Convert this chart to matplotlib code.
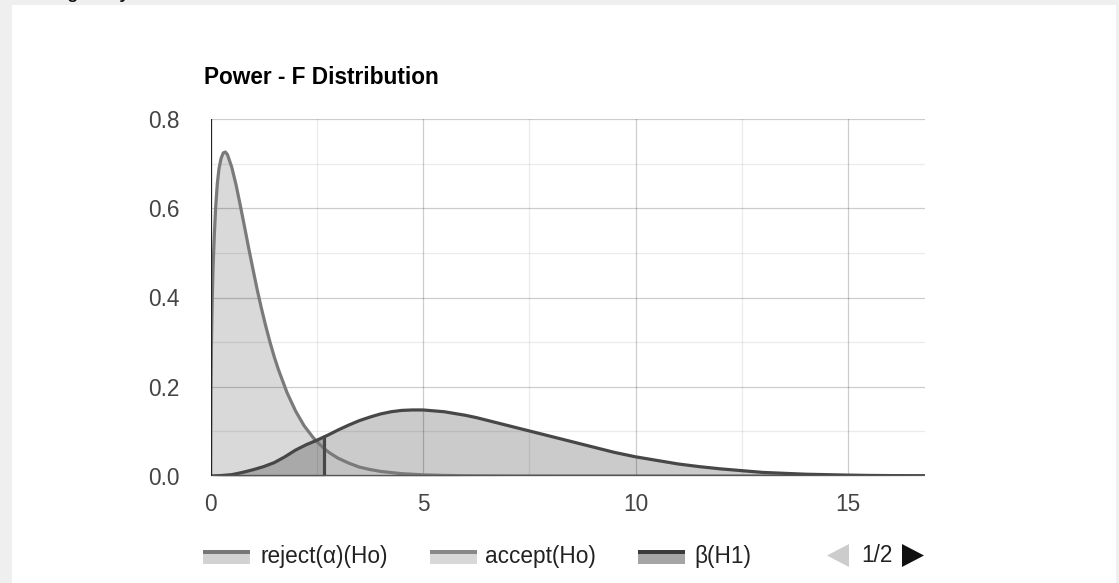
import matplotlib
matplotlib.use("Agg")
import matplotlib.pyplot as plt
from matplotlib.patches import Rectangle, Polygon
import numpy as np

plt.rcParams['font.family'] = ['Liberation Sans', 'DejaVu Sans']

# ---------------- data ----------------
ho_x = [0, 0.01, 0.02, 0.04, 0.06, 0.09, 0.12, 0.16, 0.2, 0.25, 0.3, 0.35, 0.4,
        0.5, 0.6, 0.7, 0.8, 0.9, 1.0, 1.1, 1.2, 1.3, 1.4, 1.5, 1.6, 1.8, 2.0,
        2.2, 2.4, 2.5, 2.68, 2.8, 3.0, 3.25, 3.5, 3.75, 4.0, 4.5, 5.0, 5.5,
        6.0, 7.0, 8.0, 16.8]
ho_y = [0, 0.20, 0.285, 0.39, 0.466, 0.54, 0.600, 0.655, 0.689, 0.712, 0.724,
        0.726, 0.720, 0.692, 0.653, 0.607, 0.559, 0.510, 0.463, 0.417, 0.375,
        0.336, 0.300, 0.267, 0.238, 0.187, 0.146, 0.113, 0.088, 0.077, 0.061,
        0.052, 0.040, 0.029, 0.020, 0.0146, 0.0103, 0.0052, 0.0026, 0.0013,
        0.0006, 0.00015, 0.00004, 0]

h1_x = [0, 0.25, 0.5, 0.75, 1.0, 1.25, 1.5, 1.75, 2.0, 2.25, 2.5, 2.68, 2.75,
        3.0, 3.25, 3.5, 3.75, 4.0, 4.25, 4.5, 4.75, 5.0, 5.25, 5.5, 5.75, 6.0,
        6.25, 6.5, 6.75, 7.0, 7.25, 7.5, 7.75, 8.0, 8.25, 8.5, 8.75, 9.0, 9.25,
        9.5, 9.75, 10.0, 10.5, 11.0, 11.5, 12.0, 12.5, 13.0, 13.5, 14.0, 14.5,
        15.0, 15.5, 16.0, 16.8]
h1_y = [0, 0.001, 0.003, 0.008, 0.014, 0.021, 0.030, 0.043, 0.058, 0.070,
        0.080, 0.088, 0.091, 0.103, 0.114, 0.124, 0.132, 0.139, 0.144, 0.147,
        0.148, 0.148, 0.146, 0.144, 0.140, 0.136, 0.131, 0.125, 0.119, 0.113,
        0.107, 0.101, 0.095, 0.089, 0.083, 0.077, 0.071, 0.065, 0.059, 0.053,
        0.048, 0.043, 0.035, 0.027, 0.021, 0.016, 0.012, 0.008, 0.006, 0.004,
        0.003, 0.002, 0.0013, 0.0009, 0.0005]

critical_value = 2.68
x_max = 16.8

chart_title = "Power - F Distribution"
page_heading = "Testing Analysis"
legend_labels = ["reject(\u03b1)(Ho)", "accept(Ho)", "\u03b2(H1)"]
pager_text = "1/2"
x_ticks = [0, 5, 10, 15]
y_ticks = [0.0, 0.2, 0.4, 0.6, 0.8]
x_minor = [2.5, 7.5, 12.5]
y_minor = [0.1, 0.3, 0.5, 0.7]

# ---------------- figure ----------------
W, H, DPI = 1119, 583, 100
fig = plt.figure(figsize=(W / DPI, H / DPI), dpi=DPI, facecolor='#efefef')

# overlay in pixel coordinates (card, titles, legend)
ov = fig.add_axes([0, 0, 1, 1], zorder=0)
ov.set_xlim(0, W)
ov.set_ylim(H, 0)
ov.axis('off')
ov.add_patch(Rectangle((12, 5), 1104, 600, facecolor='white', edgecolor='none'))
ov.text(17.6, -0.5, page_heading, fontsize=12.3, fontweight='bold', color='#111111',
        va='baseline', ha='left', clip_on=False)
ov.text(204, 84, chart_title, fontsize=16.3, fontweight='bold', color='#000000',
        va='baseline', ha='left')

# main axes
L, R, T, B = 210.5, 924.5, 119, 476
ax = fig.add_axes([L / W, 1 - B / H, (R - L) / W, (B - T) / H], zorder=1)
ax.patch.set_alpha(0)
ax.set_xlim(0, x_max)
ax.set_ylim(0, 0.8)
for s in ax.spines.values():
    s.set_visible(False)

hx, hy = np.array(ho_x), np.array(ho_y)
bx, by = np.array(h1_x), np.array(h1_y)

# fills
ax.fill_between(hx, hy, color='#d9d9d9', lw=0, zorder=1)
ax.fill_between(bx, by, color='#cbcbcb', lw=0, zorder=2)
m = hx >= critical_value
ax.fill_between(hx[m], hy[m], color='#c3c3c3', lw=0, zorder=2.5)
mb = bx <= critical_value
ax.fill_between(bx[mb], by[mb], color='#a9a9a9', lw=0, zorder=3)

# grid on top of fills
for v in y_minor:
    ax.axhline(v, color='black', alpha=0.08, lw=0.9, zorder=3.5)
for v in y_ticks[1:]:
    ax.axhline(v, color='black', alpha=0.2, lw=0.9, zorder=3.5)
for v in x_minor:
    ax.axvline(v, color='black', alpha=0.08, lw=0.9, zorder=3.5)
for v in x_ticks[1:]:
    ax.axvline(v, color='black', alpha=0.2, lw=0.9, zorder=3.5)

# curves
ax.plot(hx, hy, color='#7a7a7a', lw=2.3, zorder=4, solid_joinstyle='round')
ax.plot(bx, by, color='#474747', lw=2.3, zorder=5, solid_joinstyle='round')
crit_top = by[list(bx).index(critical_value)]
ax.plot([critical_value, critical_value], [0, crit_top], color='#474747', lw=2.3, zorder=5)
ax.axhline(0, color='#555555', lw=2.4, zorder=6)
ax.axvline(0, color='#222222', lw=0.9, zorder=6)

ax.set_xticks(x_ticks)
ax.set_xticklabels([str(v) for v in x_ticks])
ax.set_yticks(y_ticks)
ax.set_yticklabels([f"{v:.1f}" for v in y_ticks])
ax.tick_params(axis='both', length=0, labelsize=16.3, labelcolor='#444444')
ax.tick_params(axis='y', pad=22)
ax.tick_params(axis='x', pad=12)

# legend (manual, pixel coordinates)
icon_left = [203, 430, 638]
text_left = [260, 485, 694]
line_cols = ['#777777', '#888888', '#3a3a3a']
box_cols = ['#d2d2d2', '#d8d8d8', '#a5a5a5']
for xl, xt, lc, bc, lab in zip(icon_left, text_left, line_cols, box_cols, legend_labels):
    ov.add_patch(Rectangle((xl, 554), 47, 10, facecolor=bc, edgecolor='none'))
    ov.add_patch(Rectangle((xl, 550), 47, 4, facecolor=lc, edgecolor='none'))
    ov.text(xt, 556, lab, fontsize=16.3, color='#222222', va='center', ha='left')

ov.add_patch(Polygon([[849, 544], [849, 567], [827, 555.5]], closed=True,
                     facecolor='#cccccc', edgecolor='none'))
ov.text(877, 556, pager_text, fontsize=16.3, color='#222222', va='center', ha='center')
ov.add_patch(Polygon([[902, 544], [902, 567], [924, 555.5]], closed=True,
                     facecolor='#111111', edgecolor='none'))

fig.savefig('out.png', dpi=DPI, facecolor=fig.get_facecolor())
